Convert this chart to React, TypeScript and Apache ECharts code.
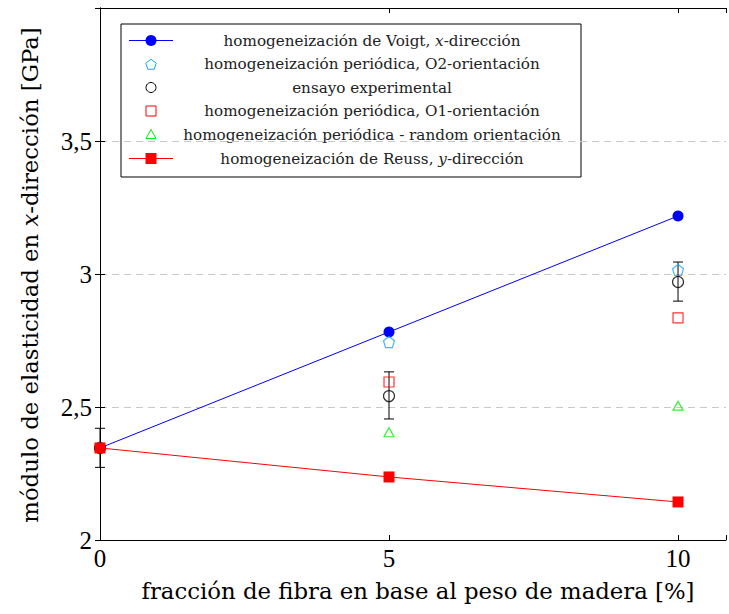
import React, { useEffect, useRef } from 'react';
import * as echarts from 'echarts';

const fractions = [0, 5, 10];
const voigt = [2.346, 2.782, 3.218];
const reuss = [2.346, 2.237, 2.143];
const o2 = [null, 2.744, 3.015];
const experimental = [2.346, 2.541, 2.97];
const expLow = [2.273, 2.455, 2.898];
const expHigh = [2.42, 2.632, 3.045];
const o1 = [null, 2.594, 2.835];
const randomOr = [null, 2.405, 2.505];

const legendLabels = [
  '{n|homogeneización de Voigt, }{i|x}{n|-dirección}',
  '{n|homogeneización periódica, O2-orientación}',
  '{n|ensayo experimental}',
  '{n|homogeneización periódica, O1-orientación}',
  '{n|homogeneización periódica - random orientación}',
  '{n|homogeneización de Reuss, }{i|y}{n|-dirección}',
];

const axisFont = 'Liberation Serif';
const titleFont = 'DejaVu Serif';
const legendFont = 'DejaVu Serif';
const LFS = 15.2;
const TFS = 22.8;

const pentagon = 'path://M0,-10 L9.511,-3.09 L5.878,8.09 L-5.878,8.09 L-9.511,-3.09 Z';

const C_BLUE = '#0000ff';
const C_RED = '#ff0000';
const C_CYAN = '#1aa6ee';
const C_GREEN = '#00ee00';
const C_O1 = '#ff0000';

function pair(arr: (number | null)[]) {
  return fractions.map((x, i) => [x, arr[i]]).filter((p) => p[1] !== null);
}

export default function App() {
  const ref = useRef<HTMLDivElement>(null);
  useEffect(() => {
    const chart = echarts.init(ref.current!, null, { renderer: 'svg' });

    const legendX = 121, legendY = 24, legendW = 460, legendH = 153;
    const rowsY = [40.5, 64, 87.5, 111, 134.5, 158.5];
    const symX = 151;
    const textX = 372;
    const legendChildren: any[] = [
      { type: 'rect', shape: { x: legendX, y: legendY, width: legendW, height: legendH }, style: { fill: '#fff', stroke: '#000', lineWidth: 1 } },
    ];
    legendChildren.push({ type: 'line', shape: { x1: 129, y1: rowsY[0], x2: 173, y2: rowsY[0] }, style: { stroke: C_BLUE, lineWidth: 1 } });
    legendChildren.push({ type: 'circle', shape: { cx: symX, cy: rowsY[0], r: 5.5 }, style: { fill: C_BLUE } });
    const pr = 5.5;
    const pent = [0, 1, 2, 3, 4].map((k) => {
      const a = -Math.PI / 2 + (k * 2 * Math.PI) / 5;
      return [symX + pr * Math.cos(a), rowsY[1] + 0.8 + pr * Math.sin(a)];
    });
    legendChildren.push({ type: 'polygon', shape: { points: pent }, style: { fill: 'none', stroke: C_CYAN, lineWidth: 1 } });
    legendChildren.push({ type: 'circle', shape: { cx: symX, cy: rowsY[2], r: 5 }, style: { fill: 'none', stroke: '#000', lineWidth: 1 } });
    legendChildren.push({ type: 'rect', shape: { x: symX - 5, y: rowsY[3] - 5, width: 10, height: 10 }, style: { fill: 'none', stroke: C_O1, lineWidth: 1 } });
    legendChildren.push({ type: 'polygon', shape: { points: [[symX, rowsY[4] - 5], [symX + 5, rowsY[4] + 4], [symX - 5, rowsY[4] + 4]] }, style: { fill: 'none', stroke: C_GREEN, lineWidth: 1 } });
    legendChildren.push({ type: 'line', shape: { x1: 129, y1: rowsY[5], x2: 173, y2: rowsY[5] }, style: { stroke: C_RED, lineWidth: 1 } });
    legendChildren.push({ type: 'rect', shape: { x: symX - 5.5, y: rowsY[5] - 5.5, width: 11, height: 11 }, style: { fill: C_RED } });

    legendLabels.forEach((t, i) => {
      legendChildren.push({
        type: 'text',
        x: textX,
        y: rowsY[i],
        style: {
          text: t,
          align: 'center',
          verticalAlign: 'middle',
          font: `${LFS}px ${legendFont}`,
          fontFamily: legendFont,
          fontSize: LFS,
          fill: '#222',
          rich: {
            n: { font: `${LFS}px ${legendFont}`, fontFamily: legendFont, fontSize: LFS, fill: '#222' },
            i: { font: `italic ${LFS}px ${legendFont}`, fontFamily: legendFont, fontSize: LFS, fontStyle: 'italic', fill: '#222' },
          },
        },
      });
    });

    const option: any = {
      animation: false,
      backgroundColor: '#fff',
      grid: { left: 100, top: 8, right: 1, bottom: 74, containLabel: false },
      xAxis: [
        {
          type: 'value',
          min: 0,
          max: 10.83,
          interval: 5,
          axisLine: { show: true, lineStyle: { color: '#000', width: 1 } },
          axisTick: { show: true, inside: true, length: 5, lineStyle: { color: '#000' } },
          axisLabel: {
            margin: 6,
            fontFamily: axisFont,
            fontSize: 25,
            color: '#000',
            formatter: (v: number) => (v % 5 === 0 ? String(v) : ''),
          },
          splitLine: { show: false },
        },
        {
          type: 'value',
          position: 'top',
          min: 0,
          max: 10.83,
          interval: 5,
          axisLine: { show: true, lineStyle: { color: '#000', width: 1 } },
          axisTick: { show: true, inside: true, length: 5, lineStyle: { color: '#000' } },
          axisLabel: { show: false },
          splitLine: { show: false },
        },
      ],
      yAxis: [
        {
          type: 'value',
          min: 2,
          max: 4,
          interval: 0.5,
          axisLine: { show: true, lineStyle: { color: '#000', width: 1 } },
          axisTick: { show: true, inside: true, length: 5, lineStyle: { color: '#000' } },
          axisLabel: {
            margin: 8,
            fontFamily: axisFont,
            fontSize: 25,
            color: '#000',
            formatter: (v: number) => (v >= 4 ? '' : String(v).replace('.', ',')),
          },
          splitLine: {
            show: true,
            lineStyle: { color: '#c8c8c8', width: 1, type: [7, 5] },
          },
        },
        {
          type: 'value',
          position: 'right',
          min: 2,
          max: 4,
          interval: 0.5,
          axisLine: { show: true, lineStyle: { color: '#000', width: 1 } },
          axisTick: { show: true, inside: true, length: 5, lineStyle: { color: '#000' } },
          axisLabel: { show: false },
          splitLine: { show: false },
        },
      ],
      series: [
        {
          type: 'line',
          data: pair(voigt),
          symbol: 'circle',
          symbolSize: 11,
          lineStyle: { color: C_BLUE, width: 1 },
          itemStyle: { color: C_BLUE },
          z: 3,
        },
        {
          type: 'scatter',
          data: pair(o2),
          symbol: pentagon,
          symbolSize: 11,
          itemStyle: { color: 'none', borderColor: C_CYAN, borderWidth: 1.2 },
          z: 4,
        },
        {
          type: 'custom',
          data: fractions.map((x, i) => [x, expLow[i], expHigh[i]]),
          encode: { x: 0, y: [1, 2] },
          renderItem: (params: any, api: any) => {
            const x = api.value(0);
            const lo = api.coord([x, api.value(1)]);
            const hi = api.coord([x, api.value(2)]);
            const w = 5;
            const st = { stroke: '#000', lineWidth: 1 };
            return {
              type: 'group',
              children: [
                { type: 'line', shape: { x1: lo[0], y1: lo[1], x2: hi[0], y2: hi[1] }, style: st },
                { type: 'line', shape: { x1: lo[0] - w, y1: lo[1], x2: lo[0] + w, y2: lo[1] }, style: st },
                { type: 'line', shape: { x1: hi[0] - w, y1: hi[1], x2: hi[0] + w, y2: hi[1] }, style: st },
              ],
            };
          },
          z: 4,
        },
        {
          type: 'scatter',
          data: pair(experimental),
          symbol: 'circle',
          symbolSize: 11,
          itemStyle: { color: 'none', borderColor: '#000', borderWidth: 1.2 },
          z: 4,
        },
        {
          type: 'scatter',
          data: pair(o1),
          symbol: 'rect',
          symbolSize: 10,
          itemStyle: { color: 'none', borderColor: C_O1, borderWidth: 1.2 },
          z: 4,
        },
        {
          type: 'scatter',
          data: pair(randomOr),
          symbol: 'triangle',
          symbolSize: [10, 9],
          itemStyle: { color: 'none', borderColor: C_GREEN, borderWidth: 1.2 },
          z: 4,
        },
        {
          type: 'line',
          data: pair(reuss),
          symbol: 'rect',
          symbolSize: 11,
          lineStyle: { color: C_RED, width: 1 },
          itemStyle: { color: C_RED },
          z: 5,
        },
      ],
      graphic: [
        { type: 'group', z: 100, children: legendChildren },
        {
          type: 'text',
          x: 418,
          y: 591,
          z: 100,
          style: {
            text: 'fracción de fibra en base al peso de madera [%]',
            align: 'center',
            verticalAlign: 'middle',
            font: `${TFS}px ${titleFont}`,
            fontFamily: titleFont,
            fontSize: TFS,
            fill: '#000',
          },
        },
        {
          type: 'text',
          x: 30,
          y: 275,
          rotation: Math.PI / 2,
          z: 100,
          style: {
            text: '{n|módulo de elasticidad en }{i|x}{n|-dirección [GPa]}',
            align: 'center',
            verticalAlign: 'middle',
            font: `${TFS}px ${titleFont}`,
            fontFamily: titleFont,
            fontSize: TFS,
            fill: '#000',
            rich: {
              n: { font: `${TFS}px ${titleFont}`, fontFamily: titleFont, fontSize: TFS, fill: '#000' },
              i: { font: `italic ${TFS}px ${titleFont}`, fontFamily: titleFont, fontSize: TFS, fontStyle: 'italic', fill: '#000' },
            },
          },
        },
      ],
    };
    chart.setOption(option);
    return () => chart.dispose();
  }, []);
  return <div ref={ref} style={{ position: 'fixed', left: 0, top: 0, width: 729, height: 614 }} />;
}
